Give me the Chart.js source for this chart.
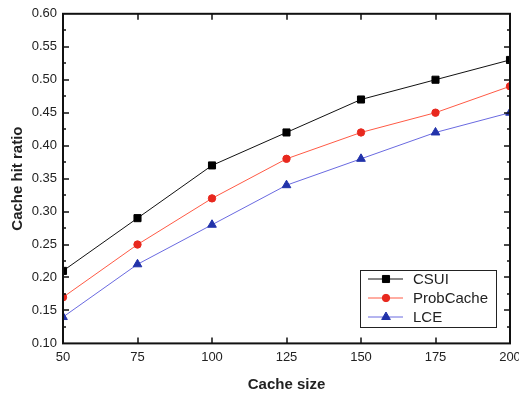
<!DOCTYPE html>
<html>
<head>
<meta charset="utf-8">
<script src="https://cdn.jsdelivr.net/npm/chart.js@4/dist/chart.umd.min.js"></script>
<style>
  html, body { margin: 0; padding: 0; background: #fff; }
  #wrap { width: 519px; height: 396px; }
</style>
</head>
<body>
<div id="wrap"><canvas id="myChart" width="519" height="396"></canvas></div>
<script>
const cacheSizes = [50, 75, 100, 125, 150, 175, 200];
const csui = [0.21, 0.29, 0.37, 0.42, 0.47, 0.50, 0.53];
const probCache = [0.17, 0.25, 0.32, 0.38, 0.42, 0.45, 0.49];
const lce = [0.14, 0.22, 0.28, 0.34, 0.38, 0.42, 0.45];

const seriesNames = ["CSUI", "ProbCache", "LCE"];
const lineColors = ["#111111", "#ff5a45", "#6a6ae0"];
const markColors = ["#000000", "#e8281e", "#2233aa"];
const markStyles = ["rect", "circle", "triangle"];
const markSizes = [5, 3.7, 5];

const toXY = vals => vals.map((v, i) => ({ x: cacheSizes[i], y: v }));

const ctx = document.getElementById("myChart").getContext("2d");
const FONT = "'Liberation Sans', Arial, sans-serif";
const TXT = "#222";

// frame, inward ticks and legend box
const framePlugin = {
  id: "frame",
  afterDatasetsDraw(chart) {
    const { ctx, chartArea: a, scales } = chart;
    const xs = scales.x, ys = scales.y;
    ctx.save();
    ctx.strokeStyle = "#111";
    ctx.lineWidth = 2;
    ctx.strokeRect(a.left, a.top, a.right - a.left, a.bottom - a.top);
    ctx.lineWidth = 1.5;
    ctx.beginPath();
    for (let v = 75; v < 200; v += 25) {
      const px = Math.round(xs.getPixelForValue(v));
      ctx.moveTo(px, a.bottom); ctx.lineTo(px, a.bottom - 6);
      ctx.moveTo(px, a.top); ctx.lineTo(px, a.top + 6);
    }
    for (let k = 1; k < 20; k++) {
      const v = 0.10 + k * 0.025;
      const py = Math.round(ys.getPixelForValue(v));
      const len = k % 2 === 0 ? 6 : 3;
      ctx.moveTo(a.left, py); ctx.lineTo(a.left + len, py);
      ctx.moveTo(a.right, py); ctx.lineTo(a.right - len, py);
    }
    ctx.stroke();

    // legend
    const bx = 360, by = 270, bw = 136, bh = 57;
    ctx.fillStyle = "#fff";
    ctx.fillRect(bx, by, bw, bh);
    ctx.lineWidth = 1;
    ctx.strokeStyle = "#222";
    ctx.strokeRect(bx + 0.5, by + 0.5, bw, bh);
    ctx.font = "15px " + FONT;
    ctx.textBaseline = "middle";
    for (let i = 0; i < 3; i++) {
      const yy = by + 9 + i * 19;
      ctx.strokeStyle = lineColors[i];
      ctx.beginPath();
      ctx.moveTo(bx + 8, yy); ctx.lineTo(bx + 43, yy);
      ctx.stroke();
      ctx.fillStyle = markColors[i];
      ctx.strokeStyle = markColors[i];
      Chart.helpers.drawPoint(ctx, {
        pointStyle: markStyles[i], radius: markSizes[i], borderWidth: 1
      }, bx + 26, yy);
      ctx.fillStyle = TXT;
      ctx.fillText(seriesNames[i], bx + 53, yy + 1);
    }
    ctx.restore();
  }
};

const allSeries = [csui, probCache, lce];
const datasets = allSeries.map((vals, i) => ({
  label: seriesNames[i],
  data: toXY(vals),
  borderColor: lineColors[i],
  borderWidth: 1,
  pointStyle: markStyles[i],
  pointRadius: markSizes[i],
  pointBackgroundColor: markColors[i],
  pointBorderColor: markColors[i],
  pointBorderWidth: 1,
  tension: 0,
  clip: 0
}));

const config = {
  type: "line",
  data: { datasets },
  options: {
    responsive: false,
    animation: false,
    layout: { padding: { top: 12, right: 9, left: 9, bottom: 2 } },
    plugins: { legend: { display: false }, tooltip: { enabled: false } },
    scales: {
      x: {
        type: "linear",
        min: 50, max: 200,
        afterBuildTicks: s => { s.ticks = cacheSizes.map(v => ({ value: v })); },
        afterFit: s => { s.paddingLeft = 0; s.paddingRight = 0; },
        grid: { display: false, drawTicks: false },
        border: { display: false },
        ticks: { color: TXT, font: { family: FONT, size: 13 }, padding: 6, maxRotation: 0 },
        title: { display: true, text: "Cache size", color: TXT, font: { family: FONT, size: 15, weight: "bold" }, padding: { top: 5, bottom: 0 } }
      },
      y: {
        min: 0.10, max: 0.60,
        afterFit: s => { s.width = 54; },
        grid: { display: false, drawTicks: false },
        border: { display: false },
        ticks: { stepSize: 0.05, color: TXT, font: { family: FONT, size: 13 }, padding: 6, callback: v => v.toFixed(2) },
        title: { display: true, text: "Cache hit ratio", color: TXT, font: { family: FONT, size: 15, weight: "bold" }, padding: { top: 0, bottom: 4 } }
      }
    }
  },
  plugins: [framePlugin]
};

const myChart = new Chart(ctx, config);
</script>
</body>
</html>
